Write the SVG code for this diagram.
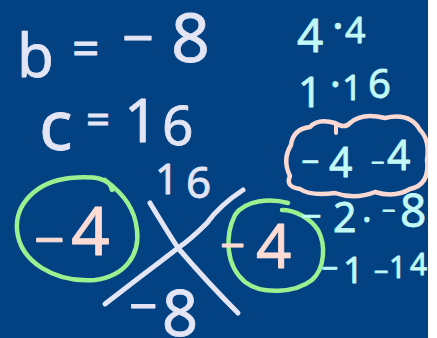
<svg xmlns="http://www.w3.org/2000/svg" width="437" height="338" viewBox="0 0 437 338">
<style>
text{font-family:"Noto Sans","DejaVu Sans",sans-serif;stroke-width:0.8;stroke-linejoin:round}
.w{fill:#e3e5f5;stroke:#e3e5f5}
.c{fill:#c2f8f6;stroke:#c2f8f6}
.p{fill:#fcdcd4;stroke:#fcdcd4}
.ln{fill:none;stroke-linecap:round;stroke-linejoin:round}
</style>
<rect width="437" height="338" fill="#034282"/>
<g id="b-eq">
<text class="w"><tspan x="17" y="77" font-size="60">b</tspan><tspan x="72" y="65" font-size="48">=</tspan><tspan x="122" y="58" font-size="56">−</tspan><tspan x="171" y="62" font-size="68">8</tspan></text>
</g>
<g id="c-eq">
<text class="w"><tspan x="39" y="150" font-size="70">c</tspan><tspan x="86" y="134" font-size="42">=</tspan><tspan x="124" y="142" font-size="60">1</tspan><tspan x="162" y="145" font-size="55">6</tspan></text>
</g>
<g id="cross">
<path class="ln" stroke="#e3e5f5" stroke-width="5" d="M150,203 Q165,228 178,248 Q208,283 238,313"/>
<path class="ln" stroke="#e3e5f5" stroke-width="5" d="M243,190 Q220,205 207,223 Q190,240 178,248 Q160,262 140,277 L105,304"/>
<text class="w"><tspan x="155" y="194" font-size="41">1</tspan><tspan x="186" y="198" font-size="44">6</tspan></text>
<text class="w"><tspan x="129" y="324" font-size="50">−</tspan><tspan x="162" y="336" font-size="63">8</tspan></text>
</g>
<g id="left-factor">
<path class="ln" stroke="#9cf08f" stroke-width="4.5" d="M112,190 C110,178 95,176 70,178 C35,182 15,205 17,230 C20,262 55,283 95,280 C125,276 140,255 137,230 C135,210 125,195 105,180"/>
<text class="p"><tspan x="34" y="259" font-size="54">−</tspan><tspan x="71" y="255" font-size="68">4</tspan></text>
</g>
<g id="right-factor">
<path class="ln" stroke="#9cf08f" stroke-width="4.5" d="M288,203 C270,198 245,200 235,215 C225,235 225,265 245,282 C262,295 295,293 312,280 C325,268 326,245 318,230 C310,218 295,210 282,210"/>
<text class="p"><tspan x="220" y="261" font-size="44">−</tspan><tspan x="256" y="268" font-size="62">4</tspan></text>
</g>
<g id="pairs">
<text class="c"><tspan x="297" y="52" font-size="46">4</tspan><tspan x="332" y="42" font-size="44">·</tspan><tspan x="345" y="43" font-size="36">4</tspan></text>
<text class="c"><tspan x="298" y="107" font-size="42">1</tspan><tspan x="330" y="98" font-size="40">·</tspan><tspan x="342" y="100" font-size="35">1</tspan><tspan x="368" y="98" font-size="40">6</tspan></text>
<text class="c"><tspan x="301" y="229" font-size="36">−</tspan><tspan x="333" y="232" font-size="41">2</tspan><tspan x="362" y="232" font-size="36">·</tspan><tspan x="382" y="219" font-size="24">−</tspan><tspan x="400" y="227" font-size="46">8</tspan></text>
<text class="c"><tspan x="321" y="279" font-size="30">−</tspan><tspan x="343" y="283" font-size="36">1</tspan><tspan x="374" y="281" font-size="26">−</tspan><tspan x="389" y="278" font-size="30">1</tspan><tspan x="410" y="275" font-size="30">4</tspan></text>
</g>
<g id="chosen-pair">
<path class="ln" stroke="#fbd9d3" stroke-width="4.5" d="M290,176 Q282,160 291,145 Q293,129 310,127 Q318,118 335,123 Q345,129 350,123 Q362,112 385,118 Q410,112 420,130 Q430,140 427,160 Q430,185 410,189 Q395,198 375,192 Q355,200 335,193 Q310,196 300,189 Q285,187 290,176 Z"/>
<path class="ln" stroke="#fbd9d3" stroke-width="4" d="M336,124 L336,133"/>
<text class="c"><tspan x="301" y="173" font-size="32">−</tspan><tspan x="329" y="177" font-size="41">4</tspan><tspan x="371" y="171" font-size="24">−</tspan><tspan x="387" y="170" font-size="41">4</tspan></text>
</g>
<rect x="428" y="0" width="9" height="338" fill="#ffffff"/>
</svg>
